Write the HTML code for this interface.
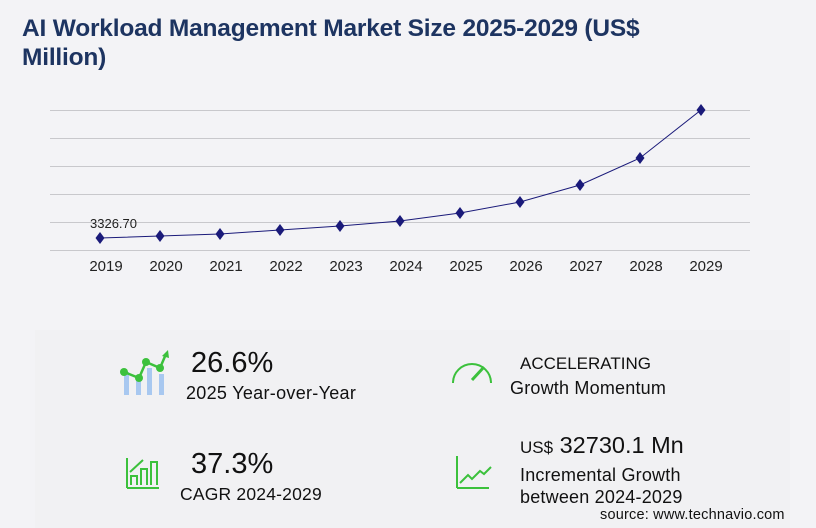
<!DOCTYPE html>
<html><head><style>
body{margin:0;width:816px;height:528px;background:#f3f3f6;font-family:"Liberation Sans",sans-serif;position:relative;overflow:hidden}
.t{position:absolute;left:22px;top:14px;font-size:24.5px;font-weight:bold;color:#1d3461;line-height:29px;letter-spacing:-0.2px}
.panel{position:absolute;left:35px;top:330px;width:755px;height:198px;background:#f1f1f3}
.a{position:absolute;color:#111;white-space:nowrap}
</style></head><body>
<div class="t">AI Workload Management Market Size 2025-2029 (US$<br>Million)</div>
<svg width="816" height="300" style="position:absolute;left:0;top:0">
<g stroke="#c8c8cc" stroke-width="1">
<line x1="50" x2="750" y1="110.5" y2="110.5"/><line x1="50" x2="750" y1="138.5" y2="138.5"/><line x1="50" x2="750" y1="166.5" y2="166.5"/><line x1="50" x2="750" y1="194.5" y2="194.5"/><line x1="50" x2="750" y1="222.5" y2="222.5"/><line x1="50" x2="750" y1="250.5" y2="250.5"/>
</g>
<polyline fill="none" stroke="#1a1a7a" stroke-width="1" points="100,238 160,236 220,234 280,230 340,226 400,221 460,213 520,202 580,185 640,158 701,110"/>
<g fill="#1a1a7a">
<path d="M100,232l4.5,6l-4.5,6l-4.5,-6z"/><path d="M160,230l4.5,6l-4.5,6l-4.5,-6z"/><path d="M220,228l4.5,6l-4.5,6l-4.5,-6z"/><path d="M280,224l4.5,6l-4.5,6l-4.5,-6z"/><path d="M340,220l4.5,6l-4.5,6l-4.5,-6z"/><path d="M400,215l4.5,6l-4.5,6l-4.5,-6z"/><path d="M460,207l4.5,6l-4.5,6l-4.5,-6z"/><path d="M520,196l4.5,6l-4.5,6l-4.5,-6z"/><path d="M580,179l4.5,6l-4.5,6l-4.5,-6z"/><path d="M640,152l4.5,6l-4.5,6l-4.5,-6z"/><path d="M701,104l4.5,6l-4.5,6l-4.5,-6z"/>
</g>
<text x="90" y="228" font-size="13" fill="#222">3326.70</text>
<g font-size="15" fill="#222" text-anchor="middle">
<text x="106" y="271">2019</text><text x="166" y="271">2020</text><text x="226" y="271">2021</text><text x="286" y="271">2022</text><text x="346" y="271">2023</text><text x="406" y="271">2024</text><text x="466" y="271">2025</text><text x="526" y="271">2026</text><text x="586" y="271">2027</text><text x="646" y="271">2028</text><text x="706" y="271">2029</text>
</g>
</svg>
<div class="panel"></div>
<svg width="816" height="528" style="position:absolute;left:0;top:0">
<g fill="#a8c8f0"><rect x="124" y="372" width="5" height="23"/><rect x="136" y="378" width="5" height="17"/><rect x="147" y="368" width="5" height="27"/><rect x="159" y="374" width="5" height="21"/></g>
<polyline points="124,372 139,378 146,362 160,368 166,354" fill="none" stroke="#3cc13c" stroke-width="2.5"/>
<g fill="#3cc13c"><circle cx="124" cy="372" r="4"/><circle cx="139" cy="378" r="4"/><circle cx="146" cy="362" r="4"/><circle cx="160" cy="368" r="4"/><path d="M162,356l6,-6l1,8z"/></g>
<g fill="none" stroke="#3cc13c" stroke-width="2">
<path d="M127,488v-30M127,488h32M131,485v-9h6v9M141,485v-16h6v16M151,485v-23h6v23M130,472l13,-12"/>
<path d="M453,383a18,18 0 0 1 38,0"/><path d="M472,380l12,-13" stroke-width="3"/>
<path d="M457,488v-32M457,488h32M460,483l8,-8l4,4l8,-8l4,3l7,-7"/>
</g>
</svg>
<div class="a" style="left:191px;top:347px;font-size:29px">26.6%</div>
<div class="a" style="left:186px;top:383px;font-size:18px;letter-spacing:0.3px">2025 Year-over-Year</div>
<div class="a" style="left:191px;top:448px;font-size:29px">37.3%</div>
<div class="a" style="left:180px;top:484px;font-size:17.5px;letter-spacing:0.2px">CAGR 2024-2029</div>
<div class="a" style="left:520px;top:354px;font-size:17px">ACCELERATING</div>
<div class="a" style="left:510px;top:378px;font-size:18px;letter-spacing:0.2px">Growth Momentum</div>
<div class="a" style="left:520px;top:432px;font-size:23.5px"><span style="font-size:17px">US$</span> 32730.1 Mn</div>
<div class="a" style="left:520px;top:465px;font-size:18px;letter-spacing:0.2px">Incremental Growth</div>
<div class="a" style="left:520px;top:487px;font-size:18px;letter-spacing:0.2px">between 2024-2029</div>
<div class="a" style="left:600px;top:507px;font-size:14.5px;letter-spacing:0.2px">source: www.technavio.com</div>
</body></html>
